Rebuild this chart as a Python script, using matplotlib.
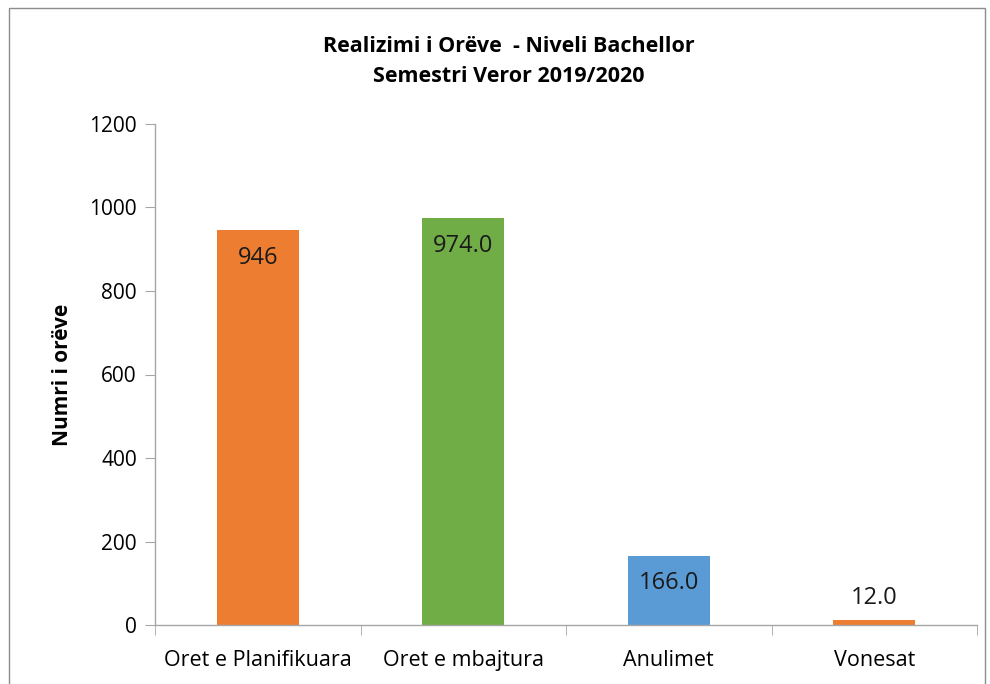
import matplotlib
matplotlib.use("Agg")
import matplotlib.pyplot as plt
from matplotlib.patches import Rectangle
from matplotlib.ticker import FixedLocator, NullFormatter

categories = ["Oret e Planifikuara", "Oret e mbajtura", "Anulimet", "Vonesat"]
values = [946, 974, 166, 12]
labels = ["946", "974.0", "166.0", "12.0"]
colors = ["#ED7D31", "#70AD47", "#5B9BD5", "#ED7D31"]
yticks = [0, 200, 400, 600, 800, 1000, 1200]

plt.rcParams['font.family'] = ['Open Sans', 'DejaVu Sans']

fig = plt.figure(figsize=(9.9, 6.84), dpi=100)
ax = fig.add_axes([155/990, 1-625/684, (977-155)/990, (625-124)/684])

x = list(range(len(categories)))
ax.bar(x, values, width=0.4, color=colors, zorder=2)
ax.set_xlim(-0.5, len(categories)-0.5)
ax.set_ylim(0, 1200)
ax.set_yticks(yticks)
ax.set_yticklabels([str(t) for t in yticks], fontsize=15, color="#000000")
ax.set_xticks(x)
ax.set_xticklabels(categories, fontsize=15.5)
ax.tick_params(axis='x', which='major', length=0, pad=18)
ax.xaxis.set_minor_locator(FixedLocator([i - 0.5 for i in range(len(categories)+1)]))
ax.xaxis.set_minor_formatter(NullFormatter())
ax.tick_params(axis='x', which='minor', length=7, color="#A6A6A6", direction='out')
ax.tick_params(axis='y', length=7, color="#A6A6A6", direction='out', pad=6)

for s in ['top', 'right']:
    ax.spines[s].set_visible(False)
for s in ['left', 'bottom']:
    ax.spines[s].set_color("#A6A6A6")
    ax.spines[s].set_linewidth(1.0)

for i, (v, lab) in enumerate(zip(values, labels)):
    off = -20 if v > 100 else 16
    ax.annotate(lab, (i, v), xytext=(0, off), textcoords='offset points',
                ha='center', va='center', fontsize=17, color="#1A1A1A")

ax.set_ylabel("Numri i orëve", fontsize=15, fontweight='bold', labelpad=12)

fig.text(0.5 + 0.014, 1-46/684, "Realizimi i Orëve  - Niveli Bachellor", ha='center', va='center',
         fontsize=15.5, fontweight='bold')
fig.text(0.5 + 0.014, 1-77/684, "Semestri Veror 2019/2020", ha='center', va='center',
         fontsize=15.5, fontweight='bold')

fig.patches.append(Rectangle((9/990, -0.05), (985-9)/990, 1.05-8/684, transform=fig.transFigure,
                             fill=False, edgecolor="#8C8C8C", linewidth=1.0))

fig.savefig("out.png", dpi=100)
